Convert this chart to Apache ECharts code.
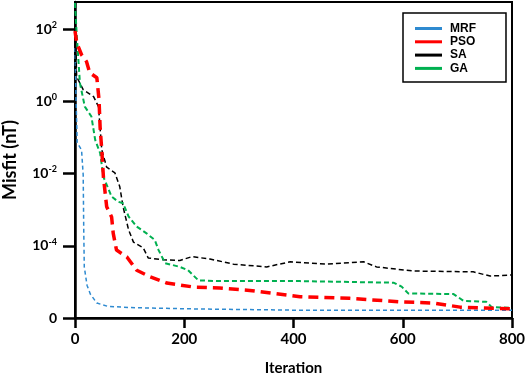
<!DOCTYPE html>
<html>
<head>
<meta charset="utf-8">
<script src="https://cdn.jsdelivr.net/npm/echarts@6/dist/echarts.min.js"></script>
<style>html,body{margin:0;padding:0;background:#fff}#c{width:526px;height:377px}</style>
</head>
<body>
<div id="c"></div>
<script>
// Iterations and misfit values (nT)
const mrfIter = [0, 2, 4, 12, 15, 16, 17, 22, 28, 40, 60, 100, 200, 400, 800];
const mrfVal  = [30, 1.1, 0.071, 0.045, 0.0091, 2.8e-4, 2.6e-5, 8.1e-6, 4.6e-6, 2.6e-6, 2.1e-6, 1.95e-6, 1.8e-6, 1.65e-6, 1.65e-6];

const psoIter = [0, 3, 12, 21, 27, 40, 44, 46, 49, 52, 58, 67, 70, 76, 95, 113, 137, 168, 217, 265, 320, 412, 503, 595, 656, 705, 800];
const psoVal  = [89, 42, 19.5, 12.6, 6.2, 4.5, 1.1, 0.19, 0.045, 8.1e-3, 1.2e-3, 6.3e-4, 2.2e-4, 7.6e-5, 4.9e-5, 2.1e-5, 1.4e-5, 9.3e-6, 7.2e-6, 6.8e-6, 5.8e-6, 3.9e-6, 3.5e-6, 2.8e-6, 2.6e-6, 2.0e-6, 1.8e-6];

const saIter = [0, 3, 15, 34, 43, 49, 58, 73, 82, 88, 98, 107, 125, 134, 162, 192, 214, 247, 290, 351, 394, 461, 528, 552, 619, 729, 760, 800];
const saVal  = [250, 4.8, 2.1, 1.35, 0.71, 0.045, 0.015, 0.0105, 4.3e-3, 1.2e-3, 2.8e-4, 1.26e-4, 8.7e-5, 4.6e-5, 4.1e-5, 3.9e-5, 5.0e-5, 4.3e-5, 3.1e-5, 2.6e-5, 3.6e-5, 3.1e-5, 3.6e-5, 2.6e-5, 2.0e-5, 1.9e-5, 1.45e-5, 1.55e-5];

const gaIter = [0, 3, 9, 18, 30, 37, 46, 52, 67, 79, 88, 98, 113, 131, 146, 153, 165, 192, 207, 226, 265, 412, 583, 598, 610, 693, 711, 753, 763, 800];
const gaVal  = [525, 78, 3.2, 0.71, 0.38, 0.085, 0.037, 8.1e-3, 2.3e-3, 1.66e-3, 1.5e-3, 6.5e-4, 3.4e-4, 2.2e-4, 1.45e-4, 7.6e-5, 3.3e-5, 2.6e-5, 2.1e-5, 1.1e-5, 1.05e-5, 1.05e-5, 9.5e-6, 7.4e-6, 4.8e-6, 4.6e-6, 3.0e-6, 2.8e-6, 2.0e-6, 1.9e-6];

const seriesNames = ['MRF', 'PSO', 'SA', 'GA'];
const xTicks = [0, 200, 400, 600, 800];

const pair = (xs, ys) => xs.map((x, i) => [x, ys[i]]);

const chart = echarts.init(document.getElementById('c'), null, {renderer: 'canvas'});
const axisFont = 'Lato, "Open Sans", sans-serif';
chart.setOption({
  animation: false,
  backgroundColor: '#fff',
  grid: {left: 75, right: 14, top: 2, bottom: 59, containLabel: false, outerBoundsMode: 'none',
         show: true, borderColor: '#000', borderWidth: 2, backgroundColor: 'transparent'},
  legend: {
    orient: 'vertical', left: 403, top: 13,
    padding: [9, 30, 7, 12],
    borderColor: '#000', borderWidth: 1.5,
    itemWidth: 27, itemHeight: 3, itemGap: 0.3,
    icon: 'rect',
    textStyle: {fontFamily: '"Liberation Sans", Arial, sans-serif', fontWeight: 'bold', fontSize: 12, lineHeight: 13, color: '#000', padding: [0, 0, 0, 3]},
    data: seriesNames
  },
  xAxis: {
    type: 'value', min: xTicks[0], max: xTicks[xTicks.length - 1], interval: 200,
    name: 'Iteration', nameLocation: 'middle', nameGap: 43,
    nameTextStyle: {fontFamily: axisFont, fontWeight: 'bold', fontSize: 15, color: '#000'},
    axisLine: {lineStyle: {color: '#000', width: 2.5}},
    axisTick: {show: true, length: 10, lineStyle: {color: '#000', width: 2.5}},
    axisLabel: {margin: 14, fontFamily: axisFont, fontWeight: 'bold', fontSize: 15, color: '#000'},
    splitLine: {show: false}
  },
  yAxis: {
    type: 'log', logBase: 10, min: 1e-6, max: 562, interval: 2,
    name: 'Misfit (nT)', nameLocation: 'middle', nameGap: 56,
    nameTextStyle: {fontFamily: axisFont, fontWeight: 'bold', fontSize: 18, color: '#000'},
    axisLine: {show: true, lineStyle: {color: '#000', width: 2.5}},
    axisTick: {show: true, length: 12, lineStyle: {color: '#000', width: 2.5}},
    axisLabel: {
      margin: 18, showMaxLabel: false,
      formatter: function (v) {
        if (v <= 1.0001e-6) return '{n|0}';
        const e = Math.round(Math.log10(v));
        return '{b|10}{s|' + e + '}';
      },
      rich: {
        n: {fontFamily: axisFont, fontWeight: 'bold', fontSize: 14, color: '#000'},
        b: {fontFamily: axisFont, fontWeight: 'bold', fontSize: 14, color: '#000'},
        s: {fontFamily: axisFont, fontWeight: 'bold', fontSize: 9, color: '#000', padding: [0, 0, 8, 0]}
      }
    },
    splitLine: {show: false}
  },
  series: [
    {name: 'MRF', type: 'line', data: pair(mrfIter, mrfVal), showSymbol: false, z: 2,
     itemStyle: {color: '#2e8ad0'}, lineStyle: {color: '#2e8ad0', width: 1.5, type: [4, 3]}},
    {name: 'PSO', type: 'line', data: pair(psoIter, psoVal), showSymbol: false, z: 5,
     itemStyle: {color: '#ff0000'}, lineStyle: {color: '#ff0000', width: 3.5, type: [10, 6]}},
    {name: 'SA', type: 'line', data: pair(saIter, saVal), showSymbol: false, z: 3,
     itemStyle: {color: '#000000'}, lineStyle: {color: '#000000', width: 1.5, type: [5, 3]}},
    {name: 'GA', type: 'line', data: pair(gaIter, gaVal), showSymbol: false, z: 4,
     itemStyle: {color: '#00b050'}, lineStyle: {color: '#00b050', width: 2, type: [5, 3]}}
  ]
});
</script>
</body>
</html>
